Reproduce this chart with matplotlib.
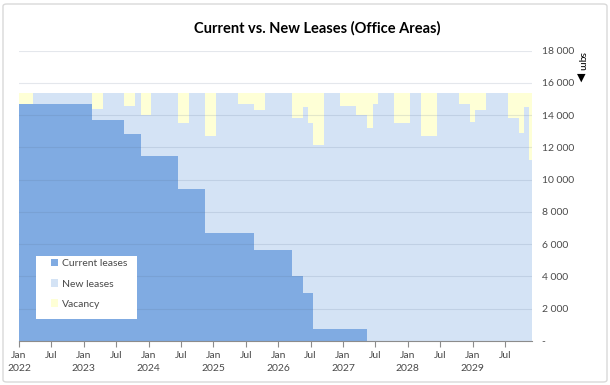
import matplotlib
matplotlib.use("Agg")
import matplotlib.pyplot as plt
from matplotlib.patches import Patch, Rectangle, FancyBboxPatch
import numpy as np

# Monthly data Jan 2022 .. Dec 2029, stored as (level, number of months)
total_area = 15400

current_levels = [14700, 13700, 12850, 11450, 9450, 6700, 5650, 4000, 3000, 750, 0]
current_months = [14, 6, 3, 7, 5, 9, 7, 2, 2, 10, 31]

vacancy_levels = [700, 0, 1000, 0, 800, 0, 1400, 0, 1900, 0, 2700, 0, 700, 1100, 0,
                  1600, 900, 1900, 3250, 0, 800, 1400, 2200, 700, 0, 1900, 0, 2700, 0,
                  700, 1850, 1100, 0, 1600, 2500, 900, 4200]
vacancy_months = [3, 11, 2, 4, 2, 1, 2, 5, 2, 3, 2, 4, 3, 2, 5,
                  2, 1, 1, 2, 3, 3, 2, 1, 1, 3, 3, 2, 3, 4,
                  2, 1, 2, 4, 2, 1, 1, 1]

years = [2022, 2023, 2024, 2025, 2026, 2027, 2028, 2029]
labels = ["Current leases", "New leases", "Vacancy"]
colors = ["#80abe2", "#d4e3f5", "#feffd6"]

current = np.repeat(current_levels, current_months)
vacancy = np.repeat(vacancy_levels, vacancy_months)
new = total_area - current - vacancy
x = np.arange(len(current))

plt.rcParams['font.family'] = ['Lato', 'DejaVu Sans']
txt = "#4a4a4a"

fig = plt.figure(figsize=(6.1, 3.85), dpi=100)
ax = fig.add_axes([19 / 610, 1 - 341 / 385, 513 / 610, 290.3 / 385])

# stacked step areas
ax.fill_between(x, 0, current, step="mid", color=colors[0], lw=0)
ax.fill_between(x, current, current + new, step="mid", color=colors[1], lw=0)
ax.fill_between(x, current + new, current + new + vacancy, step="mid", color=colors[2], lw=0)

ax.set_xlim(0, 95)
ax.set_ylim(0, 18000)

# y axis on the right
ax.yaxis.tick_right()
yt = np.arange(0, 18001, 2000)
ax.set_yticks(yt)
ax.set_yticklabels(["-" if v == 0 else f"{v:,}".replace(",", " ") for v in yt])
ax.tick_params(axis="y", length=0, pad=7, labelsize=7.5, labelcolor=txt)
ax.grid(axis="y", color="#5a6e8c", alpha=0.16, lw=0.8)
ax.set_axisbelow(False)

# x axis: Jan / Jul ticks
xt = np.arange(0, 96, 6)
xl = []
for i in xt:
    if i % 12 == 0:
        xl.append(f"Jan\n{years[i // 12]}")
    else:
        xl.append("Jul")
ax.set_xticks(xt)
ax.set_xticklabels(xl, linespacing=1.6)
ax.tick_params(axis="x", length=4, color="#8c8c8c", labelsize=7.5, labelcolor=txt, pad=3)

for s in ["top", "left", "right"]:
    ax.spines[s].set_visible(False)
ax.spines["bottom"].set_color("#8c8c8c")

# legend on a white box
ax.add_patch(Rectangle((17 / 513, 22 / 290.3), 101 / 513, 63 / 290.3,
                       transform=ax.transAxes, facecolor="white", edgecolor="none", zorder=4))
handles = [Patch(facecolor=c, edgecolor="none") for c in colors]
ax.legend(handles, labels, loc="upper left", bbox_to_anchor=(32 / 513, 82 / 290.3),
          frameon=False, borderpad=0, borderaxespad=0, handlelength=0.7, handleheight=0.7,
          handletextpad=0.4, labelspacing=1.05, fontsize=7.5, labelcolor=txt).set_zorder(5)

fig.text(0.52, 0.927, "Current vs. New Leases (Office Areas)", ha="center", va="center",
         fontsize=10.5, fontweight="bold", color="black")
fig.text(582 / 610, 1 - 61 / 385, "sqm", rotation=270, ha="center", va="center", fontsize=7.5)
fig.text(581 / 610, 1 - 78 / 385, "\u25bc", ha="center", va="center", fontsize=8,
         family="DejaVu Sans")

fig.patches.append(FancyBboxPatch((3 / 610, 3 / 385), 604 / 610, 378 / 385,
                                  boxstyle="round,pad=0,rounding_size=0.006",
                                  transform=fig.transFigure, facecolor="none",
                                  edgecolor="#d9d9d9", lw=1))

fig.savefig("out.png", dpi=100)
